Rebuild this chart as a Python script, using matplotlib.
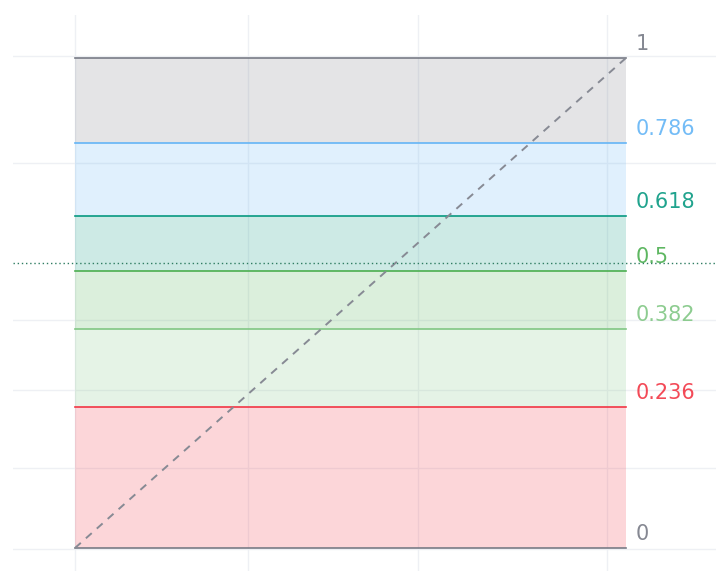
import numpy as np
import matplotlib
matplotlib.use("Agg")
import matplotlib.pyplot as plt

plt.rcParams['font.family'] = ['DejaVu Sans']

# Fib retracement drawn on a log price scale
levels = [0, 0.236, 0.382, 0.5, 0.618, 0.786, 1]
level_labels = ["0", "0.236", "0.382", "0.5", "0.618", "0.786", "1"]
level_colors = ["#787B86", "#F23645", "#81C784", "#4CAF50", "#089981", "#64B5F6", "#787B86"]

price_start = 100.0   # level 0
price_end = 170.0     # level 1
bar_start = 6.2
bar_end = 61.3

# chart grid + last-price line
grid_prices = [99.9, 109.05, 118.7, 128.0, 151.7, 170.4]
grid_bars = [6.2, 23.5, 40.5, 59.4]
last_price = 136.1

fig = plt.figure(figsize=(7.16, 5.71), dpi=100)
ax = fig.add_axes([13 / 716, 0, 703 / 716, 556 / 571])
ax.set_yscale("log")
ax.set_xlim(0, 70.3)
ax.set_ylim(97.54, 178.09)

for p in grid_prices:
    ax.axhline(p, color="#eef0f4", lw=1, zorder=0)
for b in grid_bars:
    ax.axvline(b, color="#eef0f4", lw=1, zorder=0)

prices = [price_start + lv * (price_end - price_start) for lv in levels]

# zones: each band takes the colour of its upper level
for i in range(len(levels) - 1):
    ax.fill_between([bar_start, bar_end], prices[i], prices[i + 1],
                    color=level_colors[i + 1], alpha=0.2, lw=0, zorder=1)

for p, lab, c in zip(prices, level_labels, level_colors):
    ax.plot([bar_start, bar_end], [p, p], color=c, lw=1.2, zorder=3)
    ax.annotate(lab, xy=(bar_end, p), xytext=(7, 3), textcoords="offset points",
                ha="left", va="bottom", color=c, fontsize=15, alpha=0.9, zorder=4)

# trend line
ax.plot([bar_start, bar_end], [price_start, price_end], color="#878a94",
        lw=1.4, ls=(0, (4, 3.5)), zorder=3)

ax.axhline(last_price, color="#2f7d62", lw=1, ls=(0, (1, 2)), zorder=5)

ax.set_axis_off()
plt.savefig("out.png", dpi=100, facecolor="white")
